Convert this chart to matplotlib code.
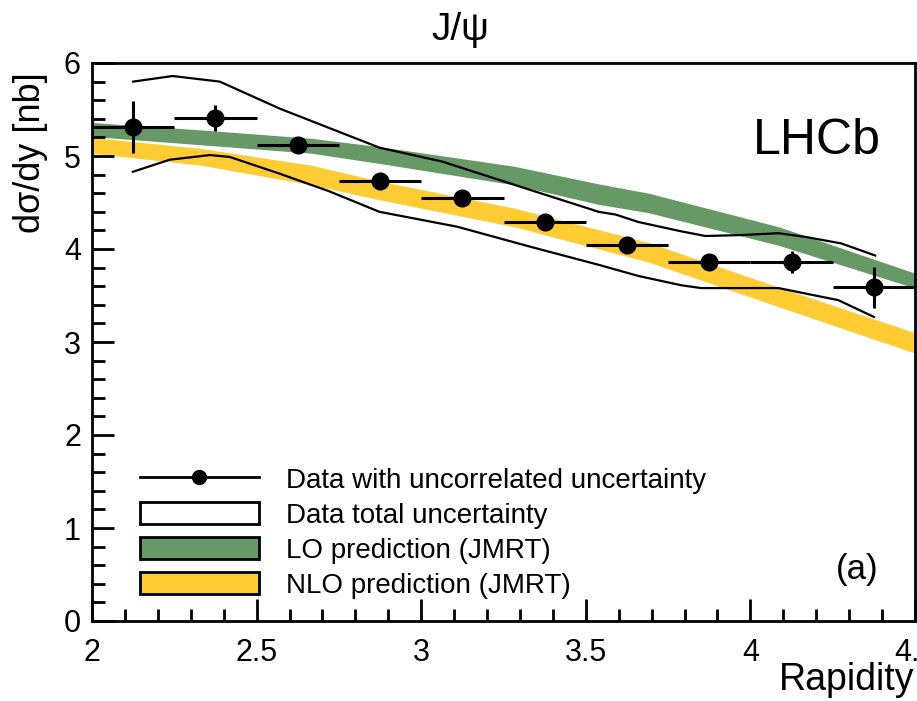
import matplotlib
matplotlib.use('Agg')
import matplotlib.pyplot as plt
from matplotlib.lines import Line2D
from matplotlib.patches import Patch
from matplotlib.ticker import MultipleLocator

# J/psi differential cross-section vs rapidity, LHCb style (ROOT-like look)

plt.rcParams['font.family'] = ['Liberation Sans', 'DejaVu Sans']

# data points, bins of 0.25 in rapidity
y_centers = [2.125, 2.375, 2.625, 2.875, 3.125, 3.375, 3.625, 3.875, 4.125, 4.375]
y_halfwidth = [0.125] * 10
dsdy = [5.31, 5.41, 5.12, 4.73, 4.55, 4.29, 4.04, 3.86, 3.86, 3.59]
dsdy_err = [0.28, 0.14, 0.04, 0.03, 0.03, 0.03, 0.03, 0.03, 0.12, 0.22]

# total uncertainty envelope (upper / lower curves)
tot_up_x = [2.125, 2.245, 2.388, 2.570, 2.873, 3.064, 3.336, 3.539, 3.591, 3.660,
            3.790, 3.863, 3.973, 4.085, 4.167, 4.276, 4.379]
tot_up = [5.80, 5.86, 5.80, 5.51, 5.09, 4.94, 4.63, 4.40, 4.37, 4.29,
          4.19, 4.14, 4.15, 4.17, 4.13, 4.06, 3.93]
tot_lo_x = [2.124, 2.236, 2.358, 2.418, 2.570, 2.721, 2.873, 3.109, 3.336, 3.539,
            3.660, 3.790, 3.850, 4.085, 4.267, 4.375]
tot_lo = [4.83, 4.96, 5.01, 4.99, 4.81, 4.62, 4.40, 4.24, 4.02, 3.83,
          3.71, 3.61, 3.58, 3.58, 3.45, 3.27]

# LO prediction band
lo_x = [2.0, 2.333, 2.667, 2.873, 3.282, 3.539, 3.691, 4.085, 4.5]
lo_hi = [5.36, 5.28, 5.19, 5.10, 4.89, 4.70, 4.60, 4.24, 3.74]
lo_lo = [5.21, 5.12, 5.03, 4.92, 4.69, 4.48, 4.39, 4.04, 3.58]

# NLO prediction band
nlo_x = [2.0, 2.333, 2.667, 2.873, 3.282, 3.690, 4.085, 4.5]
nlo_hi = [5.20, 5.08, 4.90, 4.73, 4.44, 4.07, 3.59, 3.10]
nlo_lo = [5.03, 4.90, 4.69, 4.53, 4.24, 3.86, 3.38, 2.88]

green = '#669966'
yellow = '#ffcc33'

fig = plt.figure(figsize=(9.17, 7.01), dpi=100)
ax = fig.add_axes([92 / 917, 1 - 621 / 701, 823 / 917, 558 / 701])

ax.fill_between(lo_x, lo_lo, lo_hi, color=green, lw=0, zorder=1)
ax.fill_between(nlo_x, nlo_lo, nlo_hi, color=yellow, lw=0, zorder=1)
ax.plot(tot_up_x, tot_up, color='black', lw=1.6, zorder=2)
ax.plot(tot_lo_x, tot_lo, color='black', lw=1.6, zorder=2)
ax.errorbar(y_centers, dsdy, xerr=y_halfwidth, yerr=dsdy_err, fmt='o', color='black',
            ms=12, elinewidth=2.2, capsize=0, zorder=3)

ax.set_xlim(2, 4.5)
ax.set_ylim(0, 6)
ax.xaxis.set_major_locator(MultipleLocator(0.5))
ax.xaxis.set_minor_locator(MultipleLocator(0.1))
ax.yaxis.set_major_locator(MultipleLocator(1))
ax.yaxis.set_minor_locator(MultipleLocator(0.2))
ax.set_xticks([2, 2.5, 3, 3.5, 4, 4.5], ['2', '2.5', '3', '3.5', '4', '4.5'])
ax.tick_params(which='both', direction='in', top=False, right=False, width=2)
ax.tick_params(which='major', length=16, labelsize=22)
ax.tick_params(axis='x', which='major', pad=12)
ax.tick_params(axis='y', which='major', pad=8)
ax.tick_params(which='minor', length=9)
for s in ax.spines.values():
    s.set_linewidth(2)
    s.set_zorder(5)

fig.text(460 / 917, 1 - 30 / 701, 'J/ψ', ha='center', va='center', fontsize=28)
fig.text(30 / 917, 1 - 72 / 701, 'dσ/dy [nb]', ha='center', va='top', rotation=90, fontsize=26)
fig.text(914 / 917, 1 - 680 / 701, 'Rapidity', ha='right', va='center', fontsize=27)
fig.text(817 / 917, 1 - 141 / 701, 'LHCb', ha='center', va='center', fontsize=36)
fig.text(857 / 917, 1 - 570 / 701, '(a)', ha='center', va='center', fontsize=25)

handles = [
    Line2D([], [], color='black', lw=2, marker='o', ms=10),
    Patch(facecolor='white', edgecolor='black', lw=2),
    Patch(facecolor=green, edgecolor='black', lw=2),
    Patch(facecolor=yellow, edgecolor='black', lw=2),
]
labels = ['Data with uncorrelated uncertainty', 'Data total uncertainty',
          'LO prediction (JMRT)', 'NLO prediction (JMRT)']
ax.legend(handles, labels, loc='lower left', bbox_to_anchor=(0.058, 0.04),
          frameon=False, fontsize=20, handlelength=4.3, handleheight=0.85,
          handletextpad=0.95, labelspacing=0.3, borderpad=0, borderaxespad=0)

fig.savefig('out.png', dpi=100)
